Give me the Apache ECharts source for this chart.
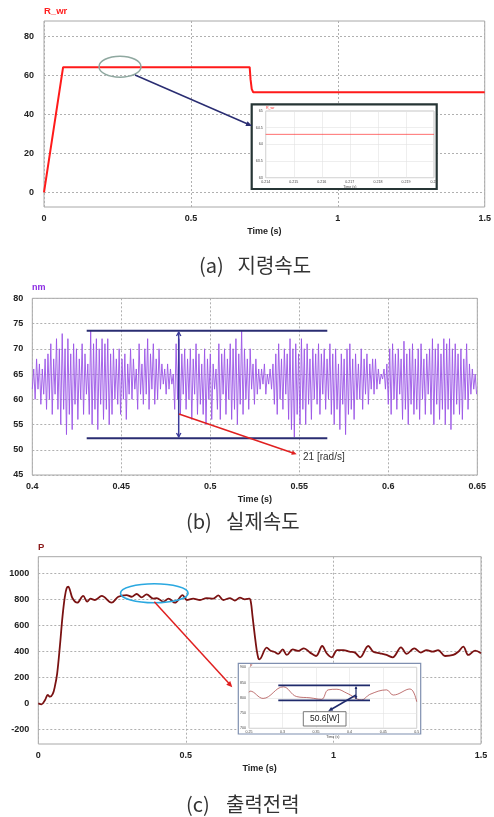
<!DOCTYPE html>
<html><head><meta charset="utf-8">
<script src="https://cdn.jsdelivr.net/npm/echarts@6/dist/echarts.min.js"></script>
<style>html,body{margin:0;padding:0;background:#fff}#c{width:494px;height:817px}</style>
</head><body><div id="c"></div>
<script>
// ---------- (a) reference speed ----------
const refTime  = [0, 0.065, 0.700, 0.703, 0.707, 0.712, 1.5];
const refSpeed = [0, 64.3, 64.3, 58, 53, 51.4, 51.4];
const refYTicks = [0, 20, 40, 60, 80];
const zoomRefTime  = [0.214, 0.22];
const zoomRefSpeed = [64.3, 64.3];

// ---------- (b) actual speed (sampled every speedDt from speedT0) ----------
const speedT0 = 0.4, speedDt = 0.0008;
const speedVals = [
 62,66,60,68,62,67,59,66,61,68,
 58,69,60,71,57,68,61,72,58,70,
 55,73,58,70,53,72,57,69,54,71,
 59,70,56,68,60,71,57,69,61,67,
 57,73.6,55,71,58,72,54,70,59,72,
 56,71,58,72,55,69,57,70,60,68,
 59,70,57,68,60,69,56,67,61,70,
 60,68,62,66,58,71,61,67,59,70,
 61,72,58,69,62,71,59,68,60,70,
 62,67,63,66,61,67,62,66,63,65,
 58,71,60,72,57,69,61,70,58,68,
 60,70,56,68,61,71,57,69,59,67,
 57,70,55,68,60,69,56,67,62,66,
 58,71,56,69,61,70,57,68,60,71,
 56,70,58,72,55,69,59,73.6,57,70,
 60,68,58,70,62,67,59,68,61,66,
 62,66,63,67,61,65,63,66,62,67,
 59,69,57,71,60,68,58,70,61,69,
 56,72,54,70,52.5,71,57,69,55,72,
 58,70,55,71,59,68,56,70,60,69,
 59,71,57,69,61,70,58,68,60,71,
 57,69,55,70,58,67,54,69,59,68,
 53,70,57,71,58,68,56,69,60,67,
 60,70,58,68,61,69,59,67,62,68,
 61,68,62,66,63,65,64,66,62,67,
 59,70,57,71,60,69,58,70,61,68,
 56,71.5,58,69,55,70,59,71,57,68,
 58,70,56,71,60,68,57,69,61,70,
 57,72,55,70,59,71,56,69,58,72,
 55,71,58,72,54,70,57,71,59,69,
 57,70,56,68,60,71,58,67,61,66,
 62,65,61
];

// ---------- (c) output power ----------
const powerTime = [0,0.011,0.023,0.032,0.040,0.049,0.056,0.064,0.073,0.082,0.090,0.096,0.1017,0.107,0.116,
 0.132,0.152,0.166,0.177,0.192,0.215,0.248,0.271,0.299,0.316,0.333,0.350,0.367,0.390,0.401,0.424,0.441,0.463,
 0.489,0.503,0.525,0.548,0.570,0.593,0.610,0.627,0.650,0.666,0.683,0.700,0.715,0.720,0.726,0.734,0.740,0.7455,0.749,
 0.774,0.787,0.799,0.813,0.828,0.842,0.862,0.881,0.900,0.921,0.941,0.962,0.977,0.994,1.013,1.034,1.054,1.073,1.090,
 1.118,1.135,1.158,1.180,1.201,1.229,1.248,1.274,1.296,1.316,1.336,1.355,1.378,1.406,1.423,1.440,1.457,1.480,1.500];
const powerVals = [0,-8,26,64,51,72,128,231,436,667,820,885,897,872,808,
 774,826,782,805,795,826,774,820,833,820,841,815,838,805,810,782,805,774,
 833,795,805,795,810,805,830,795,810,790,813,800,805,782,667,513,410,346,338,
 428,405,397,380,415,372,415,403,423,390,364,441,385,354,410,410,397,390,354,
 441,397,385,372,354,431,380,423,390,410,397,410,364,372,397,436,372,405,385];
const powerYTicks = [-200, 0, 200, 400, 600, 800, 1000];
const zoomPowerTime = [0.25,0.2515,0.271,0.301,0.321,0.341,0.358,0.368,0.381,0.396,0.418,0.430,0.455,0.465,0.490,0.5];
const zoomPowerVals = [818,822,798,836,804,800,795,826,828,815,793,811,826,809,829,787];

const pairs = (xs, ys) => xs.map((x, i) => [x, ys[i]]);
const speedData = speedVals.map((v, i) => [speedT0 + i * speedDt, v]);

const FONT = 'Liberation Sans, Arial, sans-serif';
const plain = (v) => String(+v.toFixed(6));
const gridLine = {show: true, lineStyle: {color: '#b0b0b0', type: [2, 2], width: 1}};
const lbl = (extra) => Object.assign({color: '#222', fontWeight: 'bold', fontSize: 9, fontFamily: FONT, formatter: plain}, extra || {});

function mainX(gi, min, max, interval) {
  return {type: 'value', gridIndex: gi, min, max, interval,
    axisLine: {show: false}, axisTick: {show: false},
    axisLabel: lbl({margin: 7, showMinLabel: true, showMaxLabel: true}),
    splitLine: gridLine,
    name: 'Time (s)', nameLocation: 'middle', nameGap: 20,
    nameTextStyle: {color: '#222', fontWeight: 'bold', fontSize: 9, fontFamily: FONT}};
}
function mainY(gi, min, max, extra) {
  return Object.assign({type: 'value', gridIndex: gi, min, max,
    axisLine: {show: false}, axisTick: {show: false},
    axisLabel: lbl({margin: 9}), splitLine: gridLine}, extra || {});
}
function insetX(gi, min, max, interval) {
  return {type: 'value', gridIndex: gi, min, max, interval, z: 7,
    axisLine: {show: false}, axisTick: {show: false},
    axisLabel: {color: '#444', fontSize: 3.6, fontFamily: FONT, margin: 2, formatter: plain},
    splitLine: {show: true, lineStyle: {color: '#e3e3e3', width: 0.6}},
    name: 'Time (s)', nameLocation: 'middle', nameGap: 5,
    nameTextStyle: {color: '#444', fontSize: 3.6, fontFamily: FONT}};
}
function insetY(gi, min, max, interval) {
  return {type: 'value', gridIndex: gi, min, max, interval, z: 7,
    axisLine: {show: false}, axisTick: {show: false},
    axisLabel: {color: '#444', fontSize: 3.6, fontFamily: FONT, margin: 3, formatter: plain},
    splitLine: {show: true, lineStyle: {color: '#e3e3e3', width: 0.6}}};
}

// annotation helpers (pixel space)
function head(ax, ay, bx, by, color, L) {
  const a = Math.atan2(by - ay, bx - ax), W = L * 0.45;
  return {type: 'polygon', z: 20, shape: {points: [[bx, by],
    [bx - L * Math.cos(a) + W * Math.sin(a), by - L * Math.sin(a) - W * Math.cos(a)],
    [bx - L * Math.cos(a) - W * Math.sin(a), by - L * Math.sin(a) + W * Math.cos(a)]]},
    style: {fill: color}};
}
function chevron(ax, ay, bx, by, color, L, w) {
  const a = Math.atan2(by - ay, bx - ax), W = L * 0.55;
  return {type: 'polyline', z: 20, shape: {points: [
    [bx - L * Math.cos(a) + W * Math.sin(a), by - L * Math.sin(a) - W * Math.cos(a)], [bx, by],
    [bx - L * Math.cos(a) - W * Math.sin(a), by - L * Math.sin(a) + W * Math.cos(a)]]},
    style: {stroke: color, lineWidth: w, fill: null}};
}
function line(x1, y1, x2, y2, color, w) {
  return {type: 'line', z: 20, shape: {x1, y1, x2, y2}, style: {stroke: color, lineWidth: w}};
}
function text(x, y, t, font, fill, align) {
  return {type: 'text', z: 20, x, y, style: {text: t, font, fill, textAlign: align || 'left', textVerticalAlign: 'middle'}};
}

const NAVY = '#2a2d72';
const graphics = [
  // series titles
  text(44, 11, 'R_wr', 'bold 9.5px ' + FONT, '#ff2020'),
  text(32, 288, 'nm', 'bold 9px ' + FONT, '#8a2be2'),
  text(38, 547, 'P', 'bold 9.5px ' + FONT, '#8b1a1a'),
  // (a) annotations
  {type: 'ellipse', z: 20, shape: {cx: 120, cy: 66.7, rx: 21, ry: 10.5}, style: {stroke: '#8fa8a0', lineWidth: 1.5, fill: null}},
  line(135, 75, 250, 125, NAVY, 1.5), head(135, 75, 252, 126, NAVY, 6),
  {type: 'rect', z: 5, shape: {x: 251.7, y: 104.3, width: 185, height: 84.7}, style: {fill: '#fff', stroke: '#263535', lineWidth: 2.2}},
  text(266, 107.5, 'R_wr', '3.6px ' + FONT, '#ff2020'),
  // (b) annotations
  line(86.7, 330.7, 327.3, 330.7, NAVY, 2),
  line(86.7, 438.3, 327.3, 438.3, NAVY, 2),
  line(178.7, 332, 178.7, 437, '#3a3a9a', 1.5),
  chevron(178.7, 340, 178.7, 332, '#3a3a9a', 4, 1.3),
  chevron(178.7, 430, 178.7, 437, '#3a3a9a', 4, 1.3),
  line(179, 414, 293, 453, '#e02020', 1.5), head(179, 414, 296.7, 454.3, '#e02020', 5),
  text(303, 457, '21 [rad/s]', '10px ' + FONT, '#333'),
  // (c) annotations
  {type: 'ellipse', z: 20, shape: {cx: 154.3, cy: 593.3, rx: 33.8, ry: 9.5}, style: {stroke: '#2aa8e0', lineWidth: 1.6, fill: null}},
  line(154.3, 601.7, 230, 684.5, '#e02020', 1.5), head(154.3, 601.7, 232.3, 687.3, '#e02020', 6),
  {type: 'rect', z: 5, shape: {x: 238.3, y: 663.3, width: 182.4, height: 70.7}, style: {fill: '#fff', stroke: '#7f8fb0', lineWidth: 1.2}},
  text(250, 665.5, 'P', '3.6px ' + FONT, '#8b1a1a'),
  line(278.3, 685.3, 370, 685.3, '#1f2a6b', 1.8),
  line(278.3, 700.3, 370, 700.3, '#1f2a6b', 1.8),
  line(356, 687, 356, 699, '#1f2a6b', 1.2),
  head(356, 695, 356, 686, '#1f2a6b', 3), head(356, 690, 356, 699, '#1f2a6b', 3),
  line(356, 695, 331, 709.5, '#1f2a6b', 1.5), head(356, 695, 328.3, 711, '#1f2a6b', 4.5),
  {type: 'rect', z: 20, shape: {x: 303.3, y: 711.7, width: 42.7, height: 14.3}, style: {fill: '#fff', stroke: '#777', lineWidth: 1}},
  text(324.6, 719, '50.6[W]', '8.5px ' + FONT, '#222', 'center'),
  // captions
  text(199, 265, '(a)', '20px "Noto Sans CJK KR"', '#333'),
  text(237.5, 265, '지령속도', '20px "Noto Sans CJK KR"', '#333'),
  text(186, 521.5, '(b)', '20px "Noto Sans CJK KR"', '#333'),
  text(226, 521.5, '실제속도', '20px "Noto Sans CJK KR"', '#333'),
  text(186, 804, '(c)', '20px "Noto Sans CJK KR"', '#333'),
  text(226, 804, '출력전력', '20px "Noto Sans CJK KR"', '#333')
];

const border = {show: true, borderColor: '#a8a8a8', borderWidth: 1, backgroundColor: 'transparent'};
const option = {
  animation: false,
  backgroundColor: '#fff',
  grid: [
    Object.assign({left: 44, top: 21, width: 446, height: 186}, border),
    Object.assign({left: 32.3, top: 298.3, width: 445, height: 176.7}, border),
    Object.assign({left: 38.3, top: 556.7, width: 442.7, height: 187.3}, border),
    {left: 265.7, top: 111, width: 168.3, height: 66.7, show: true, borderColor: '#b5b5b5', borderWidth: 0.8, backgroundColor: '#fff', z: 6},
    {left: 249, top: 667.3, width: 167.7, height: 61, show: true, borderColor: '#b5b5b5', borderWidth: 0.8, backgroundColor: '#fff', z: 6}
  ],
  xAxis: [
    mainX(0, 0, 1.5, 0.5),
    mainX(1, 0.4, 0.65, 0.05),
    mainX(2, 0, 1.5, 0.5),
    insetX(3, 0.214, 0.22, 0.001),
    insetX(4, 0.25, 0.5, 0.05)
  ],
  yAxis: [
    mainY(0, -7.5, 88, {axisLabel: lbl({margin: 10, customValues: refYTicks}), axisTick: {show: false, customValues: refYTicks}}),
    mainY(1, 45, 80, {interval: 5}),
    mainY(2, -313, 1128, {axisLabel: lbl({margin: 9, customValues: powerYTicks}), axisTick: {show: false, customValues: powerYTicks}}),
    insetY(3, 63, 65, 0.5),
    insetY(4, 700, 900, 50)
  ],
  series: [
    {type: 'line', xAxisIndex: 0, yAxisIndex: 0, data: pairs(refTime, refSpeed), showSymbol: false,
     lineStyle: {color: '#ff1a1a', width: 2}},
    {type: 'line', xAxisIndex: 1, yAxisIndex: 1, data: speedData, showSymbol: false,
     lineStyle: {color: '#9b55e6', width: 0.9}},
    {type: 'line', xAxisIndex: 2, yAxisIndex: 2, data: pairs(powerTime, powerVals), showSymbol: false, smooth: 0.35,
     lineStyle: {color: '#7a1212', width: 1.8}},
    {type: 'line', xAxisIndex: 3, yAxisIndex: 3, data: pairs(zoomRefTime, zoomRefSpeed), showSymbol: false, z: 8,
     lineStyle: {color: '#ff3030', width: 0.7}},
    {type: 'line', xAxisIndex: 4, yAxisIndex: 4, data: pairs(zoomPowerTime, zoomPowerVals), showSymbol: false, smooth: 0.4, z: 8,
     lineStyle: {color: '#b05050', width: 0.8}}
  ],
  graphic: {elements: graphics}
};
const chart = echarts.init(document.getElementById('c'), null, {renderer: 'canvas'});
chart.setOption(option);
</script>
</body></html>
